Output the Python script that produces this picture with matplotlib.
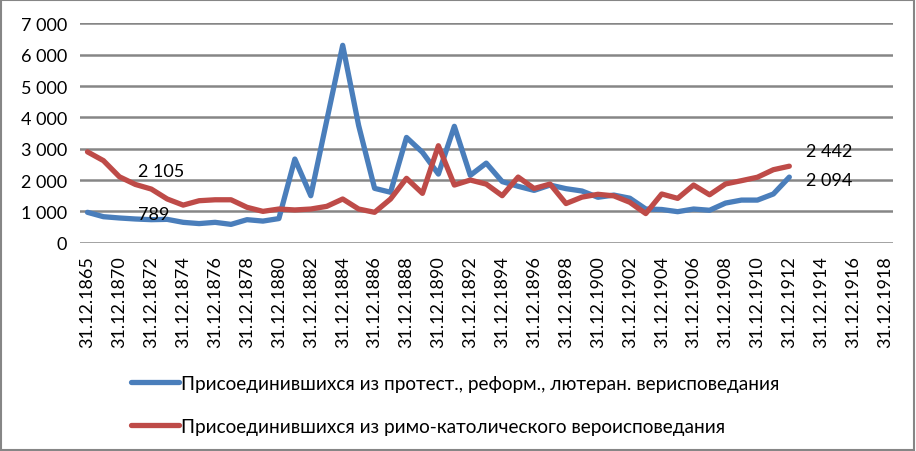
import matplotlib.pyplot as plt
from matplotlib.patches import Rectangle
from matplotlib.ticker import FuncFormatter

plt.rcParams['font.family'] = ['Lato', 'DejaVu Sans']

# категории оси X (51 шт., подписи через одну)
years = [1865, 1869] + list(range(1870, 1919))
categories = ['31.12.%d' % y for y in years]

# присоединившиеся из протест., реформ., лютеран. вероисповедания
protestant = [970, 830, 789, 757, 735, 745, 650, 610, 650, 585,
              735, 690, 770, 2670, 1500, 3900, 6300, 3740, 1735, 1610,
              3360, 2885, 2190, 3715, 2150, 2540, 1950, 1800, 1670, 1840,
              1725, 1650, 1450, 1520, 1420, 1075, 1060, 990, 1075, 1035,
              1265, 1360, 1360, 1555, 2094]

# присоединившиеся из римо-католического вероисповедания
catholic = [2900, 2620, 2105, 1860, 1712, 1395, 1200, 1340, 1370, 1370,
            1130, 1000, 1075, 1045, 1075, 1160, 1395, 1075, 970, 1395,
            2055, 1575, 3095, 1840, 2000, 1870, 1500, 2095, 1730, 1872,
            1250, 1455, 1545, 1495, 1290, 930, 1555, 1415, 1840, 1530,
            1875, 1980, 2090, 2330, 2442]

label_blue = 'Присоединившихся из протест., реформ., лютеран. верисповедания'
label_red = 'Присоединившихся из римо-католического вероисповедания'

blue = '#4A7EBB'
red = '#BE4B48'
grid_col = '#868686'

W, H = 916, 452
fig = plt.figure(figsize=(W / 100, H / 100), dpi=100)
ax = fig.add_axes([79.5 / W, 1 - 243.7 / H, (893 - 79.5) / W, (243.7 - 24.4) / H])

x = list(range(len(protestant)))
l1, = ax.plot(x, protestant, color=blue, lw=3.8, solid_joinstyle='round', solid_capstyle='round')
l2, = ax.plot(x, catholic, color=red, lw=3.8, solid_joinstyle='round', solid_capstyle='round')

ax.set_xlim(-0.5, len(categories) - 0.5)
ax.set_ylim(0, 7000)
ax.set_yticks(range(0, 7001, 1000))
ax.yaxis.set_major_formatter(FuncFormatter(lambda v, p: '{:,}'.format(int(v)).replace(',', ' ')))
ax.set_xticks(range(0, len(categories), 2))
ax.set_xticklabels(categories[::2], rotation=90)
ax.tick_params(axis='both', length=0, labelsize=13, colors='black')
ax.tick_params(axis='y', pad=9)
ax.tick_params(axis='x', pad=9)
ax.grid(axis='y', color=grid_col, lw=1.8)
ax.set_axisbelow(True)
for s in ax.spines.values():
    s.set_visible(False)

# подписи данных
fs = 13
ax.annotate('2 105', (2, catholic[2]), xytext=(19, 6), textcoords='offset pixels',
            fontsize=fs, va='center', ha='left')
ax.annotate('789', (2, protestant[2]), xytext=(19, 4), textcoords='offset pixels',
            fontsize=fs, va='center', ha='left')
ax.annotate('2 442', (44, catholic[44]), xytext=(17, 15), textcoords='offset pixels',
            fontsize=fs, va='center', ha='left')
ax.annotate('2 094', (44, protestant[44]), xytext=(17, -3), textcoords='offset pixels',
            fontsize=fs, va='center', ha='left')

fig.legend([l1, l2], [label_blue, label_red], loc='upper left',
           bbox_to_anchor=(131 / W, 1 - 376 / H), frameon=False, fontsize=13.7,
           handlelength=2.5, handletextpad=0.15, labelspacing=1.35, borderpad=0,
           borderaxespad=0)

# рамка вокруг диаграммы
fig.patches.append(Rectangle((0.001, 0.002), 0.997, 0.995, transform=fig.transFigure,
                             fill=False, edgecolor=grid_col, lw=1.5))

fig.savefig('out.png', dpi=100)
